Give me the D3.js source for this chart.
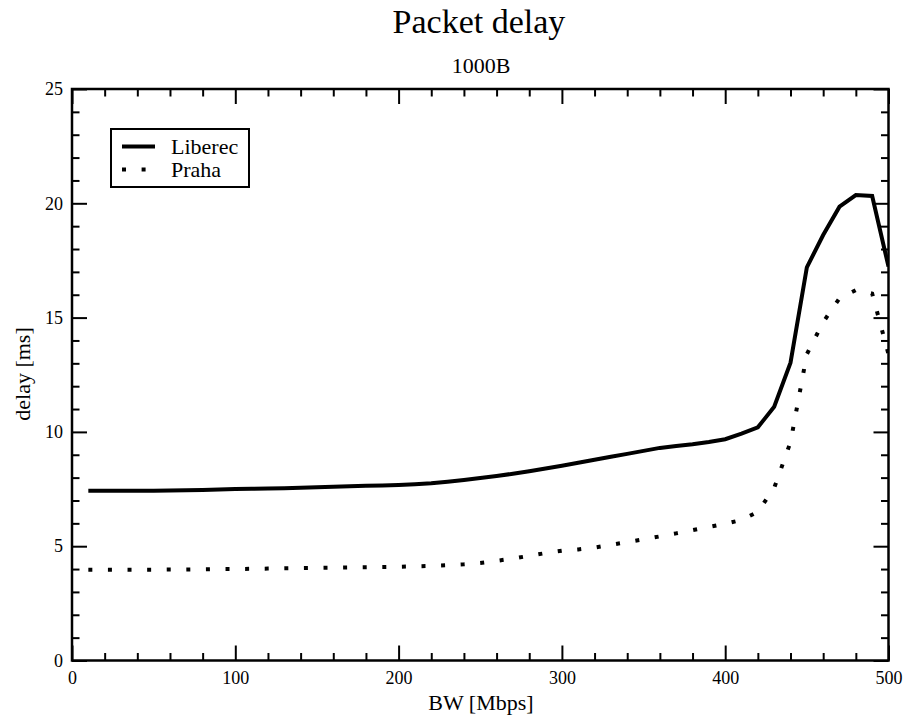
<!DOCTYPE html>
<html>
<head>
<meta charset="utf-8">
<script src="https://cdn.jsdelivr.net/npm/d3@7"></script>
<style>
  html, body { margin: 0; padding: 0; background: #fff; }
  svg { display: block; }
  svg text { font-family: "Liberation Serif", "Times New Roman", "DejaVu Serif", serif; fill: #000; }
</style>
</head>
<body>
<svg id="chart" width="909" height="719"></svg>
<script>
// ---- data ----
const bw = [10, 20, 30, 40, 50, 60, 70, 80, 90, 100,
            110, 120, 130, 140, 150, 160, 170, 180, 190, 200,
            210, 220, 230, 240, 250, 260, 270, 280, 290, 300,
            310, 320, 330, 340, 350, 360, 370, 380, 390, 400,
            410, 420, 430, 440, 450, 460, 470, 480, 490, 500];
const liberec = [7.43, 7.43, 7.43, 7.43, 7.43, 7.44, 7.45, 7.46, 7.48, 7.50,
                 7.51, 7.52, 7.54, 7.56, 7.58, 7.60, 7.62, 7.64, 7.66, 7.68,
                 7.71, 7.75, 7.82, 7.90, 7.98, 8.07, 8.17, 8.28, 8.40, 8.52,
                 8.65, 8.78, 8.91, 9.04, 9.17, 9.30, 9.38, 9.46, 9.56, 9.68,
                 9.92, 10.20, 11.10, 13.03, 17.20, 18.61, 19.85, 20.36, 20.32, 17.23];
const praha = [3.97, 3.97, 3.97, 3.97, 3.97, 3.98, 3.98, 3.99, 4.00, 4.00,
               4.01, 4.02, 4.03, 4.04, 4.05, 4.06, 4.07, 4.08, 4.09, 4.10,
               4.12, 4.14, 4.17, 4.21, 4.27, 4.36, 4.46, 4.58, 4.70, 4.80,
               4.86, 4.94, 5.06, 5.18, 5.30, 5.43, 5.56, 5.70, 5.84, 5.98,
               6.15, 6.50, 7.55, 9.55, 13.40, 14.80, 15.85, 16.20, 16.05, 13.40];
const seriesNames = ["Liberec", "Praha"];
const xMajorTicks = [0, 100, 200, 300, 400, 500];
const xMinorTicks = [20, 40, 60, 80, 120, 140, 160, 180, 220, 240, 260, 280,
                     320, 340, 360, 380, 420, 440, 460, 480];
const yMajorTicks = [0, 5, 10, 15, 20, 25];
const yMinorTicks = [1, 2, 3, 4, 6, 7, 8, 9, 11, 12, 13, 14, 16, 17, 18, 19, 21, 22, 23, 24];
const titleText = "Packet delay";
const subtitleText = "1000B";
const xLabel = "BW [Mbps]";
const yLabel = "delay [ms]";

// ---- layout ----
const FONT = '"Liberation Serif", "Times New Roman", "DejaVu Serif", serif';
const svg = d3.select("#chart");
const L = 72, R = 888.5, T = 89, B = 660.5;
const x = d3.scaleLinear().domain([0, 500]).range([L, R]);
const y = d3.scaleLinear().domain([0, 25]).range([B, T]);

const MAJ = 15, MIN = 7.5;

function styleAxis(g) {
  g.attr("font-family", null).attr("font-size", null);
  g.select(".domain").remove();
  g.selectAll(".tick line").attr("stroke", "#000").attr("stroke-width", 2);
  g.selectAll(".tick text").style("font-family", FONT).style("font-size", "18px").attr("fill", "#000");
}

// bottom
svg.append("g").attr("transform", `translate(0,${B})`)
  .call(d3.axisBottom(x).tickValues(xMajorTicks).tickSizeInner(-MAJ).tickSizeOuter(0).tickPadding(11).tickFormat(d3.format("d")))
  .call(styleAxis);
svg.append("g").attr("transform", `translate(0,${B})`)
  .call(d3.axisBottom(x).tickValues(xMinorTicks).tickSizeInner(-MIN).tickSizeOuter(0).tickFormat(""))
  .call(styleAxis);
// top
svg.append("g").attr("transform", `translate(0,${T})`)
  .call(d3.axisTop(x).tickValues(xMajorTicks).tickSizeInner(-MAJ).tickSizeOuter(0).tickFormat(""))
  .call(styleAxis);
svg.append("g").attr("transform", `translate(0,${T})`)
  .call(d3.axisTop(x).tickValues(xMinorTicks).tickSizeInner(-MIN).tickSizeOuter(0).tickFormat(""))
  .call(styleAxis);
// left
svg.append("g").attr("transform", `translate(${L},0)`)
  .call(d3.axisLeft(y).tickValues(yMajorTicks).tickSizeInner(-MAJ).tickSizeOuter(0).tickPadding(9).tickFormat(d3.format("d")))
  .call(styleAxis);
svg.append("g").attr("transform", `translate(${L},0)`)
  .call(d3.axisLeft(y).tickValues(yMinorTicks).tickSizeInner(-MIN).tickSizeOuter(0).tickFormat(""))
  .call(styleAxis);
// right
svg.append("g").attr("transform", `translate(${R},0)`)
  .call(d3.axisRight(y).tickValues(yMajorTicks).tickSizeInner(-MAJ).tickSizeOuter(0).tickFormat(""))
  .call(styleAxis);
svg.append("g").attr("transform", `translate(${R},0)`)
  .call(d3.axisRight(y).tickValues(yMinorTicks).tickSizeInner(-MIN).tickSizeOuter(0).tickFormat(""))
  .call(styleAxis);

// clip
svg.append("clipPath").attr("id", "plotclip")
  .append("rect").attr("x", L).attr("y", T).attr("width", R - L).attr("height", B - T);

const line = d3.line().x(d => x(d[0])).y(d => y(d[1]));
const plot = svg.append("g").attr("clip-path", "url(#plotclip)");

plot.append("path")
  .datum(bw.map((v, i) => [v, praha[i]]))
  .attr("d", line).attr("fill", "none").attr("stroke", "#000")
  .attr("stroke-width", 4).attr("stroke-dasharray", "4,15.6").attr("stroke-linecap", "butt");

plot.append("path")
  .datum(bw.map((v, i) => [v, liberec[i]]))
  .attr("d", line).attr("fill", "none").attr("stroke", "#000")
  .attr("stroke-width", 4).attr("stroke-linejoin", "miter");

// frame
svg.append("rect").attr("x", L).attr("y", T).attr("width", R - L).attr("height", B - T)
  .attr("fill", "none").attr("stroke", "#000").attr("stroke-width", 2.5);

// titles
function addText(sel) { return sel.style("font-family", FONT); }
addText(svg.append("text")).attr("x", 479).attr("y", 33).attr("text-anchor", "middle")
  .style("font-size", "34px").text(titleText);
addText(svg.append("text")).attr("x", 481).attr("y", 73).attr("text-anchor", "middle")
  .style("font-size", "22px").text(subtitleText);
addText(svg.append("text")).attr("x", 481).attr("y", 710).attr("text-anchor", "middle")
  .style("font-size", "22px").text(xLabel);
addText(svg.append("text")).attr("transform", "translate(30,374) rotate(-90)").attr("text-anchor", "middle")
  .style("font-size", "22px").text(yLabel);

// legend
const lg = svg.append("g");
lg.append("rect").attr("x", 111).attr("y", 129).attr("width", 138).attr("height", 58)
  .attr("fill", "#fff").attr("stroke", "#000").attr("stroke-width", 2);
const legendRows = [
  { name: seriesNames[0], dash: null, yy: 146.5 },
  { name: seriesNames[1], dash: "4,15.6", yy: 169.5 }
];
legendRows.forEach(r => {
  const p = lg.append("line").attr("x1", 122).attr("x2", 155).attr("y1", r.yy).attr("y2", r.yy)
    .attr("stroke", "#000").attr("stroke-width", 4);
  if (r.dash) p.attr("stroke-dasharray", r.dash);
  addText(lg.append("text")).attr("x", 171).attr("y", r.yy + 7).style("font-size", "22px").text(r.name);
});
</script>
</body>
</html>
